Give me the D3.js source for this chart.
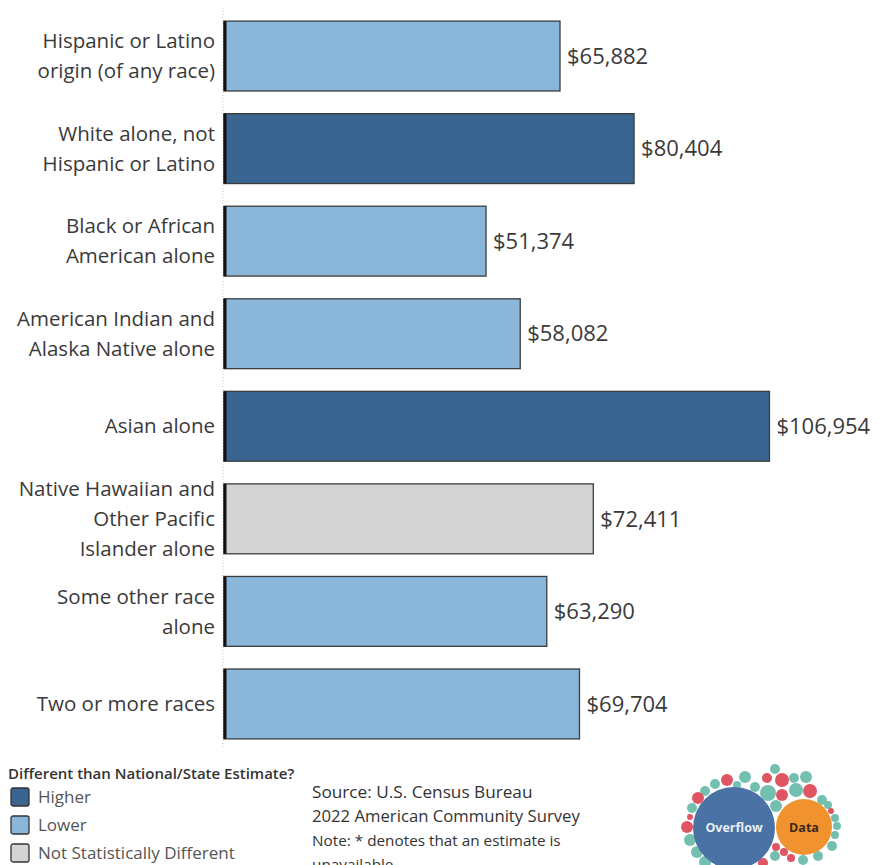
<!DOCTYPE html>
<html>
<head>
<meta charset="utf-8">
<script src="https://d3js.org/d3.v7.min.js"></script>
<style>
  body { margin: 0; background: white; }
  text { font-family: "Open Sans", sans-serif; }
</style>
</head>
<body>
<div id="my_dataviz"></div>
<script>
// data
var categories = [
  ["Hispanic or Latino", "origin (of any race)"],
  ["White alone, not", "Hispanic or Latino"],
  ["Black or African", "American alone"],
  ["American Indian and", "Alaska Native alone"],
  ["Asian alone"],
  ["Native Hawaiian and", "Other Pacific", "Islander alone"],
  ["Some other race", "alone"],
  ["Two or more races"]
];
var incomes = [65882, 80404, 51374, 58082, 106954, 72411, 63290, 69704];
var diffStatus = ["Lower", "Higher", "Lower", "Lower", "Higher", "Not Statistically Different", "Lower", "Lower"];
var legendKeys = ["Higher", "Lower", "Not Statistically Different"];
var legendColors = ["#3a6590", "#8ab6da", "#d4d4d4"];

var width = 878, height = 865;
var svg = d3.select("#my_dataviz").append("svg")
  .attr("width", width).attr("height", height);

var x = d3.scaleLinear().domain([0, 100000]).range([224, 734]);
var y = d3.scaleBand().domain(d3.range(categories.length))
  .range([10, 750]).paddingInner(0.245).paddingOuter(0.12);
var color = d3.scaleOrdinal().domain(legendKeys).range(legendColors);

// dotted zero axis
svg.append("line")
  .attr("x1", x(0) - 1).attr("x2", x(0) - 1)
  .attr("y1", 8).attr("y2", 748)
  .attr("stroke", "#c8c8c8").attr("stroke-dasharray", "1,2");

var g = svg.selectAll(".row").data(incomes).enter().append("g");

g.append("rect")
  .attr("x", x(0))
  .attr("y", function (d, i) { return y(i); })
  .attr("width", function (d) { return x(d) - x(0); })
  .attr("height", y.bandwidth())
  .attr("fill", function (d, i) { return color(diffStatus[i]); })
  .attr("stroke", "#3c3c3c").attr("stroke-width", 1.3);

g.append("line")
  .attr("x1", x(0) + 1).attr("x2", x(0) + 1)
  .attr("y1", function (d, i) { return y(i); })
  .attr("y2", function (d, i) { return y(i) + y.bandwidth(); })
  .attr("stroke", "#111").attr("stroke-width", 3);

g.append("text")
  .attr("x", function (d) { return x(d) + 7; })
  .attr("y", function (d, i) { return y(i) + y.bandwidth() / 2; })
  .attr("dy", "0.35em")
  .attr("font-size", 22).attr("fill", "#3a3a3a")
  .text(function (d) { return "$" + d3.format(",")(d); });

// category labels
g.each(function (d, i) {
  var lines = categories[i];
  var cy = y(i) + y.bandwidth() / 2;
  var t = d3.select(this).append("text")
    .attr("text-anchor", "end")
    .attr("font-size", 20.5).attr("fill", "#3a3a3a");
  lines.forEach(function (l, k) {
    t.append("tspan")
      .attr("x", 215)
      .attr("y", cy + (k - (lines.length - 1) / 2) * 30)
      .attr("dy", "0.35em")
      .text(l);
  });
});

// legend
svg.append("text").attr("x", 8).attr("y", 779)
  .attr("font-size", 15).attr("font-weight", 600).attr("fill", "#333")
  .text("Different than National/State Estimate?");
var lg = svg.selectAll(".leg").data(legendKeys).enter().append("g")
  .attr("transform", function (d, i) { return "translate(11," + (788 + i * 28) + ")"; });
lg.append("rect").attr("width", 18).attr("height", 18).attr("rx", 2)
  .attr("fill", function (d) { return color(d); })
  .attr("stroke", "#333").attr("stroke-width", 1.3);
lg.append("text").attr("x", 27).attr("y", 9).attr("dy", "0.35em")
  .attr("font-size", 17).attr("fill", "#555")
  .text(function (d) { return d; });

// source notes
var notes = [
  ["Source: U.S. Census Bureau", 17.2, 798],
  ["2022 American Community Survey", 16.7, 822],
  ["Note: * denotes that an estimate is", 15.3, 846],
  ["unavailable", 15.3, 870]
];
svg.selectAll(".note").data(notes).enter().append("text")
  .attr("x", 312).attr("y", function (d) { return d[2]; })
  .attr("font-size", function (d) { return d[1]; })
  .attr("fill", "#333")
  .text(function (d) { return d[0]; });

// logo bubbles
var bubbles = [
  [775,769,5,"t"],[767,778,5,"r"],[782,780,7,"r"],[794,778,5,"t"],[806,777,6,"t"],
  [745,777,6,"t"],[727,780,6,"r"],[737,785,4,"t"],[715,784,5,"t"],[705,791,5,"t"],
  [698,798,6,"r"],[692,808,5,"t"],[690,817,3,"r"],[687,827,6,"r"],[690,840,6,"t"],
  [697,852,6,"t"],[755,787,5,"t"],[768,793,8,"t"],[782,795,6,"r"],[796,790,7,"t"],
  [810,791,7,"r"],[776,806,6,"t"],[822,800,5,"t"],[828,805,4,"t"],[831,811,3,"r"],
  [835,818,4,"t"],[837,826,4,"t"],[835,835,4,"t"],[832,846,5,"t"],[776,847,4,"r"],
  [784,852,4,"r"],[775,856,5,"t"],[791,858,4,"r"],[803,860,5,"t"],[818,856,5,"t"],
  [763,863,5,"r"],[705,862,6,"t"],[720,866,5,"r"]
];
svg.selectAll(".bub").data(bubbles).enter().append("circle")
  .attr("cx", function (d) { return d[0]; })
  .attr("cy", function (d) { return d[1]; })
  .attr("r", function (d) { return d[2]; })
  .attr("fill", function (d) { return d[3] == "r" ? "#e05563" : "#74c0b0"; });
svg.append("circle").attr("cx", 734).attr("cy", 828).attr("r", 41).attr("fill", "#4a72a4");
svg.append("circle").attr("cx", 804).attr("cy", 827).attr("r", 28).attr("fill", "#f0932e");
svg.append("text").attr("x", 734).attr("y", 828).attr("dy", "0.35em")
  .attr("text-anchor", "middle").attr("font-size", 12.5).attr("font-weight", 700)
  .attr("fill", "#e8eef5").text("Overflow");
svg.append("text").attr("x", 804).attr("y", 828).attr("dy", "0.35em")
  .attr("text-anchor", "middle").attr("font-size", 12.5).attr("font-weight", 700)
  .attr("fill", "#3a2a1a").text("Data");
</script>
</body>
</html>
